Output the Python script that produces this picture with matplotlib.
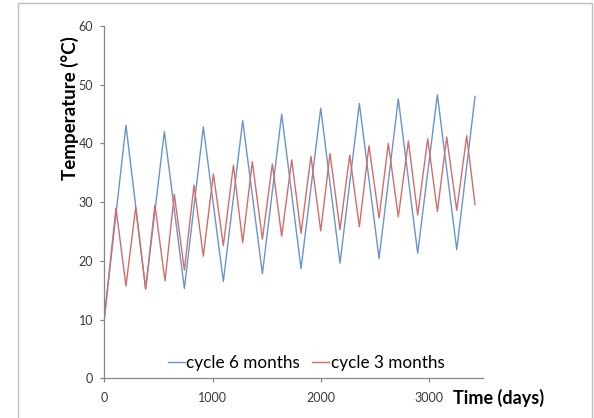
import matplotlib
matplotlib.use("Agg")
import matplotlib.pyplot as plt
from matplotlib.patches import Rectangle

plt.rcParams["font.family"] = ["Lato", "DejaVu Sans"]

# cycle 6 months (blue)
t_6m = [0, 200, 382, 555, 740, 915, 1100, 1279, 1461, 1639, 1818, 2000,
        2178, 2357, 2539, 2717, 2896, 3078, 3257, 3426]
temp_6m = [10.2, 43.1, 15.2, 42.0, 15.3, 42.8, 16.5, 43.9, 17.8, 45.0, 18.7,
           46.0, 19.6, 46.8, 20.4, 47.6, 21.3, 48.3, 21.9, 48.0]

# cycle 3 months (red)
t_3m = [0, 108, 200, 290, 382, 468, 561, 647, 740, 829, 915, 1008, 1100,
        1193, 1279, 1368, 1461, 1553, 1639, 1732, 1818, 1910, 2000, 2086,
        2178, 2268, 2357, 2446, 2539, 2625, 2717, 2810, 2896, 2989, 3078,
        3164, 3257, 3349, 3426]
temp_3m = [10.2, 29.0, 15.7, 29.1, 15.2, 29.5, 16.6, 31.3, 18.4, 32.9, 20.8,
           34.8, 22.6, 36.3, 23.1, 36.9, 23.7, 36.5, 24.2, 37.2, 24.7, 37.8,
           25.1, 38.3, 25.3, 38.0, 25.8, 39.6, 27.3, 40.0, 27.5, 40.4, 27.8,
           40.8, 28.4, 41.1, 28.6, 41.3, 29.6]

x_ticks = [0, 1000, 2000, 3000]
y_ticks = [0, 10, 20, 30, 40, 50, 60]

fig = plt.figure(figsize=(5.94, 4.18), dpi=100)
ax = fig.add_axes([0.1756, 0.095, 0.6376, 0.8428])

ax.plot(t_6m, temp_6m, color="#6995CE", lw=1.0, label="cycle 6 months")
ax.plot(t_3m, temp_3m, color="#D26D6A", lw=1.0, label="cycle 3 months")

ax.set_xlim(0, 3500)
ax.set_ylim(0, 60)
ax.set_xticks(x_ticks)
ax.set_yticks(y_ticks)

for side in ["top", "right"]:
    ax.spines[side].set_visible(False)
for side in ["left", "bottom"]:
    ax.spines[side].set_color("#868686")
    ax.spines[side].set_linewidth(0.9)

ax.tick_params(axis="both", colors="#868686", length=3, width=0.9,
               labelsize=9, labelcolor="#3A3A3A")
ax.tick_params(axis="y", pad=5)
ax.tick_params(axis="x", pad=7)

fig.text(70 / 594, 0.742, "Temperature (\u00b0C)", rotation=90,
         ha="center", va="center", fontsize=13.5, fontweight="bold")
fig.text(453 / 594, 0.048, "Time (days)", ha="left", va="center",
         fontsize=13, fontweight="bold")

ax.legend(loc="center", bbox_to_anchor=(0.533, 0.043), ncol=2,
          frameon=False, fontsize=12.3, handlelength=1.0, handletextpad=0.1,
          columnspacing=0.7)

# outer chart border
fig.patches.append(Rectangle((18 / 594, -0.01), 574 / 594, 1 - 3 / 418 + 0.01,
                             transform=fig.transFigure, fill=False,
                             edgecolor="#BFBFBF", lw=1.0))

fig.savefig("out.png", dpi=100)
